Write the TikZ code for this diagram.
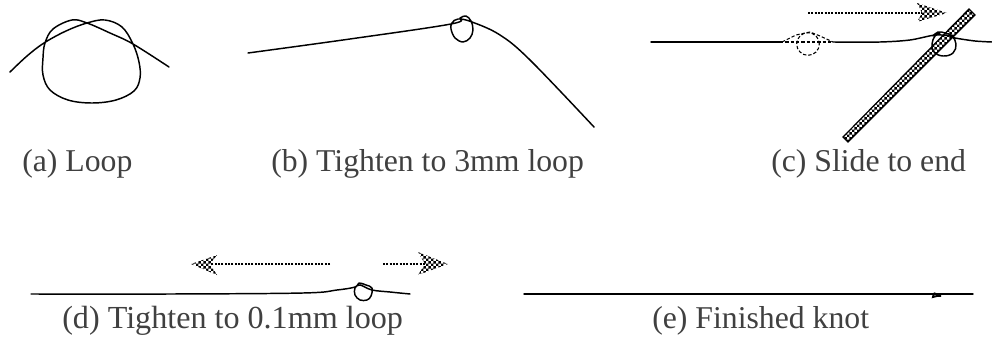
\documentclass[tikz,border=0pt]{standalone}
\usepackage{fontspec}
\setmainfont{Liberation Serif}
\usetikzlibrary{patterns, positioning, calc}

% Finer checks than the stock pattern
\pgfdeclarepatternformonly{finechecks}{\pgfpointorigin}{\pgfqpoint{4pt}{4pt}}{\pgfqpoint{4pt}{4pt}}{
    \pgfpathrectangle{\pgfpointorigin}{\pgfqpoint{2pt}{2pt}}
    \pgfpathrectangle{\pgfqpoint{2pt}{2pt}}{\pgfqpoint{2pt}{2pt}}
    \pgfusepath{fill}
}

\begin{document}
\begin{tikzpicture}[
        x=0.75pt, y=-0.75pt,
        % Text under each panel
        caption/.style={anchor=base west, inner sep=0pt, text=black!75, font=\fontsize{23.8}{26}\selectfont},
        % The thread
        thread/.style={line width=1.1pt, line join=round, line cap=round},
        ghost/.style={line width=0.8pt, dash pattern=on 2.5pt off 1.5pt},
        % Motion arrows and the stick
        shaft/.style={line width=1pt, dash pattern=on 1.5pt off 1pt},
        checker/.style={pattern=finechecks},
        stick/.style={draw, line width=0.9pt, pattern=finechecks}
    ]
        \useasboundingbox (0,0) rectangle (992,339);

        % (a) Loop
        \draw[thread] plot[smooth, tension=0.6] coordinates {(10,72) (27,56) (44,43) (66,31) (87,23) (105,20) (122,27) (133,44) (139,62) (140,78) (134,91) (116,100) (92,103) (68,100) (50,90) (43,75) (43,58) (45,43) (53,29) (72,20) (87,23) (110,33) (133,44) (169,67)};
        \node[caption] (capa) at (22,171) {(a) Loop};

        % (b) Tighten to 3mm loop
        \draw[thread] plot[smooth, tension=0.6] coordinates {(248,53) (350,39) (451,24) (460,18) (466,16) (471,21) (473,30) (470,38) (463,42) (455,38) (451,29) (452,23) (458,19) (472,22) (500,35) (530,60) (594,127)};
        \node[caption] (capb) at (271,171) {(b) Tighten to 3mm loop};

        % (c) Slide to end
        \draw[thread] (651,42) -- (780,42);
        \draw[thread] plot[smooth, tension=0.5] coordinates {(833,42) (880,42) (910,40) (935,35) (950,36) (955,38) (975,41) (992,42)};
        \draw[ghost] (782,42) -- (796,35) -- (810,32) -- (820,36) -- (833,42);
        \draw[ghost] (780,42) -- (833,42);
        \node[circle, draw, ghost, minimum size=17pt, inner sep=0pt] (ghostloop) at (808,44) {};
        \coordinate (stickA) at (843,137);
        \coordinate (stickB) at (848,142);
        \coordinate (stickC) at (975,15);
        \coordinate (stickD) at (969,9);
        \draw[stick] (stickA) -- (stickB) -- (stickC) -- (stickD) -- cycle;
        \draw[thread] plot[smooth, tension=0.7] coordinates {(933,36) (938,32) (945,33) (952,36) (956,44) (953,53) (943,56) (934,52) (932,44) (935,36) (940,33)};
        \coordinate (slideA) at (808,13);
        \coordinate (slideB) at (922,13);
        \draw[shaft] (slideA) -- (slideB);
        \path[checker] (947,13) -- (917,3) -- (922,13) -- (917,22) -- cycle;
        \node[caption] (capc) at (771,171) {(c) Slide to end};

        % (d) Tighten to 0.1mm loop
        \draw[thread] plot[smooth, tension=0.6] coordinates {(31,294) (170,294) (303,293) (337,290) (355,287) (359,283) (366,285) (372,288) (371,296) (367,300) (360,300) (355,295) (355,288) (360,285) (372,290) (390,292) (410,294)};
        \coordinate (pullL) at (330,264);
        \coordinate (pullLend) at (210,264);
        \coordinate (pullR) at (383,264);
        \coordinate (pullRend) at (425,264);
        \draw[shaft] (pullL) -- (pullLend);
        \draw[shaft] (pullR) -- (pullRend);
        \path[checker] (191,264) -- (217,255) -- (210,264) -- (217,275) -- cycle;
        \path[checker] (448,264) -- (418,252) -- (425,264) -- (418,275) -- cycle;
        \node[caption, font=\fontsize{24.1}{26}\selectfont] (capd) at (62,328) {(d) Tighten to 0.1mm loop};

        % (e) Finished knot
        \coordinate (endL) at (524,294);
        \coordinate (endR) at (973,294);
        \draw[thread] (endL) -- (endR);
        \draw[line width=1.4pt] (934,293) -- (933,297) -- (937,296) -- (941,296);
        \draw[line width=1pt] (934,293) -- (937,294) -- (937,296);
        \node[caption] (cape) at (652,328) {(e) Finished knot};

    \end{tikzpicture}
\end{document}
